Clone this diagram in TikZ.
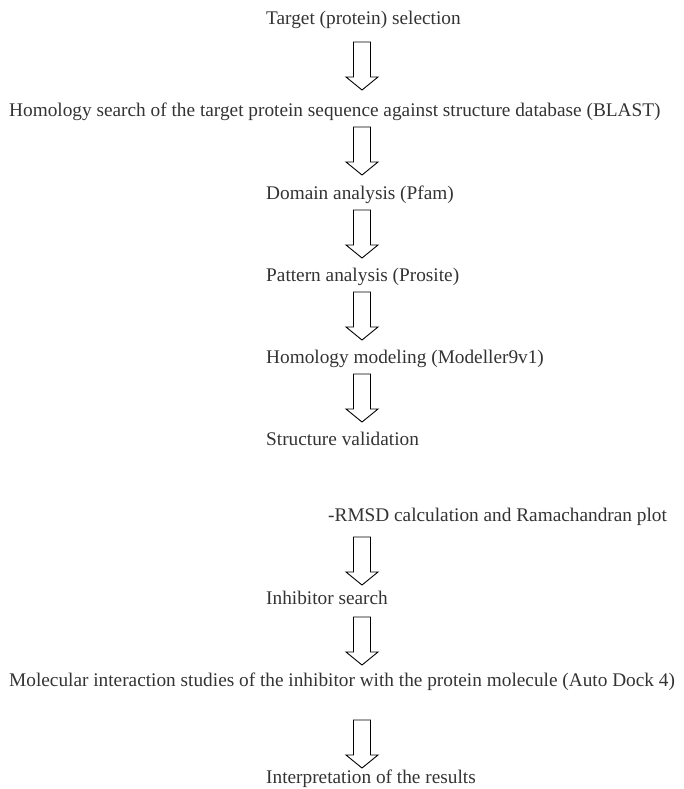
\documentclass[tikz,border=0pt]{standalone}
\usepackage{fontspec}
\setmainfont{Liberation Serif}
\usepackage{tikz}
\usetikzlibrary{calc}

\begin{document}
\begin{tikzpicture}[
    x=1pt, y=-1pt,
    stage/.style={anchor=west, inner sep=0pt, text height=15pt, text depth=2pt, font=\fontsize{19.3}{23}\selectfont, text=black!80},
    blockarrow/.style={draw, line width=0.9pt, fill=white, line join=miter,
        to path={($(\tikztostart)+(-8.5,0)$) -- ($(\tikztotarget)+(-8.5,-13)$) -- ($(\tikztotarget)+(-16,-13)$) -- (\tikztotarget) -- ($(\tikztotarget)+(16,-13)$) -- ($(\tikztotarget)+(8.5,-13)$) -- ($(\tikztostart)+(8.5,0)$) -- cycle}},
]
\useasboundingbox (0,0) rectangle (684,789);

% Steps
\node[stage] (target) at (266,18) {Target (protein) selection};
\node[stage] (blast) at (9,110) {Homology search of the target protein sequence against structure database (BLAST)};
\node[stage] (pfam) at (266,193) {Domain analysis (Pfam)};
\node[stage] (prosite) at (266,275) {Pattern analysis (Prosite)};
\node[stage] (modeller) at (266,357) {Homology modeling (Modeller9v1)};
\node[stage] (valid) at (266,439) {Structure validation};
\node[stage] (rmsd) at (328,515) {-RMSD calculation and Ramachandran plot};
\node[stage] (inhib) at (266,598) {Inhibitor search};
\node[stage] (dock) at (9,680) {Molecular interaction studies of the inhibitor with the protein molecule (Auto Dock 4)};
\node[stage] (result) at (266,777) {Interpretation of the results};

% Arrow ends
\coordinate (a1) at (362,42);  \coordinate (b1) at (362,90);
\coordinate (a2) at (362,127); \coordinate (b2) at (362,175);
\coordinate (a3) at (362,210); \coordinate (b3) at (362,258);
\coordinate (a4) at (362,292); \coordinate (b4) at (362,340);
\coordinate (a5) at (362,374); \coordinate (b5) at (362,422);
\coordinate (a6) at (362,537); \coordinate (b6) at (362,585);
\coordinate (a7) at (362,617); \coordinate (b7) at (362,665);
\coordinate (a8) at (362,720); \coordinate (b8) at (362,768);

% Arrows
\draw[blockarrow] (a1) to (b1);
\draw[blockarrow] (a2) to (b2);
\draw[blockarrow] (a3) to (b3);
\draw[blockarrow] (a4) to (b4);
\draw[blockarrow] (a5) to (b5);
\draw[blockarrow] (a6) to (b6);
\draw[blockarrow] (a7) to (b7);
\draw[blockarrow] (a8) to (b8);

\end{tikzpicture}
\end{document}
